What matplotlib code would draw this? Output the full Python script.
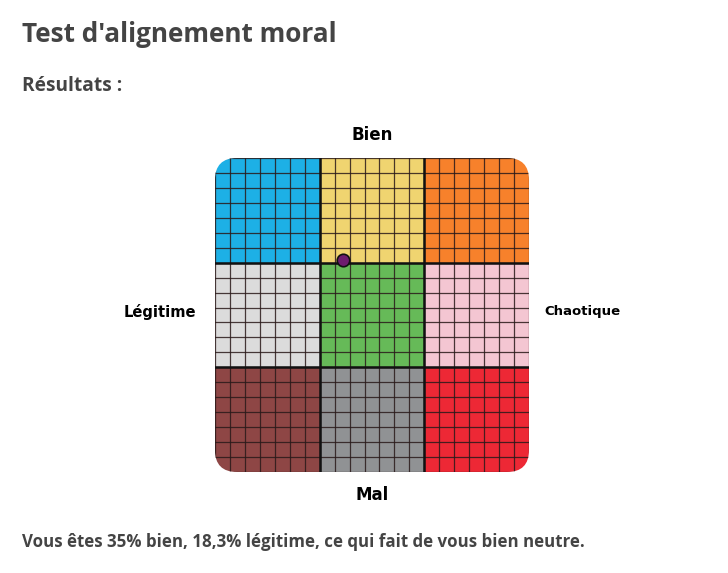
import matplotlib
matplotlib.use("Agg")
import matplotlib.pyplot as plt
from matplotlib.patches import Rectangle, FancyBboxPatch
import numpy as np

W, H = 728, 573

# scores read from the result sentence
bien = 35.0        # % bien (vertical, up = bien)
legitime = 18.3    # % legitime (horizontal, left = legitime)

# 3x3 cells, rows from top (bien) to bottom (mal), cols legitime -> chaotique
cell_colors = [
    ["#1DB0E6", "#F0D470", "#F7812B"],
    ["#DCDCDC", "#66BA58", "#F4C6D2"],
    ["#8E4645", "#909294", "#ED2835"],
]
n_sub = 7  # small squares per cell side

fig = plt.figure(figsize=(W / 100, H / 100), dpi=100)
fig.patch.set_facecolor("white")

def px(x, y):
    return x / W, 1 - y / H

# grid box in pixels: 215..529 x 158..472
left, top, right, bottom = 215, 158, 529, 472
ax = fig.add_axes([left / W, (H - bottom) / H, (right - left) / W, (bottom - top) / H])
ax.set_xlim(-100, 100)
ax.set_ylim(-100, 100)
ax.axis("off")

clip = FancyBboxPatch((-100, -100), 200, 200,
                      boxstyle="round,pad=0,rounding_size=14",
                      transform=ax.transData, facecolor="none", edgecolor="none")
ax.add_patch(clip)

edges = np.linspace(-100, 100, 4)
for r in range(3):
    for c in range(3):
        rect = Rectangle((edges[c], edges[2 - r]), edges[1] - edges[0], edges[1] - edges[0],
                         facecolor=cell_colors[r][c], edgecolor="none", zorder=1)
        ax.add_patch(rect)
        rect.set_clip_path(clip)

minor = np.linspace(-100, 100, 3 * n_sub + 1)
for v in minor:
    for ln in (ax.axvline(v, color="#2a1a1a", lw=0.9, alpha=0.85, zorder=2),
               ax.axhline(v, color="#2a1a1a", lw=0.9, alpha=0.85, zorder=2)):
        ln.set_clip_path(clip)
for v in edges[1:-1]:
    for ln in (ax.axvline(v, color="#111111", lw=1.8, zorder=3),
               ax.axhline(v, color="#111111", lw=1.8, zorder=3)):
        ln.set_clip_path(clip)

ax.plot([-legitime], [bien], "o", ms=9, markerfacecolor="#6E1C6E",
        markeredgecolor="#111111", markeredgewidth=1.2, zorder=5, clip_on=False)

# page texts
fig.text(*px(22, 35), "Test d'alignement moral", fontsize=18.8, fontweight="bold",
         family="Open Sans", color="#444444", va="center", ha="left")
fig.text(*px(22, 86), "Résultats :", fontsize=13.8, fontweight="bold",
         family="Open Sans", color="#444444", va="center", ha="left")
fig.text(*px(22, 542), "Vous êtes 35% bien, 18,3% légitime, ce qui fait de vous bien neutre.",
         fontsize=12.2, fontweight="bold", family="Open Sans", color="#444444",
         va="center", ha="left")

# axis labels
fig.text(*px(372, 135), "Bien", fontsize=12, fontweight="bold", family="DejaVu Sans",
         color="black", ha="center", va="center")
fig.text(*px(372, 495), "Mal", fontsize=12, fontweight="bold", family="DejaVu Sans",
         color="black", ha="center", va="center")
fig.text(*px(160, 312), "Légitime", fontsize=10.6, fontweight="bold", family="DejaVu Sans",
         color="black", ha="center", va="center")
fig.text(*px(582, 312), "Chaotique", fontsize=9.5, fontweight="bold", family="DejaVu Sans",
         color="black", ha="center", va="center")

fig.savefig("out.png", dpi=100, facecolor="white")
